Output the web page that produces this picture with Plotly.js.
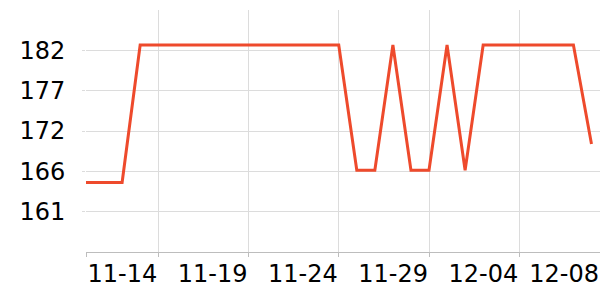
<!DOCTYPE html>
<html>
<head>
<meta charset="utf-8">
<script src="https://cdn.plot.ly/plotly-3.0.1.min.js"></script>
<style>html,body{margin:0;padding:0;background:#fff;}#chart{width:600px;height:300px;}</style>
</head>
<body>
<div id="chart"></div>
<script>
const dates = [
  "2024-11-10","2024-11-11","2024-11-12","2024-11-13","2024-11-14","2024-11-15","2024-11-16",
  "2024-11-17","2024-11-18","2024-11-19","2024-11-20","2024-11-21","2024-11-22","2024-11-23",
  "2024-11-24","2024-11-25","2024-11-26","2024-11-27","2024-11-28","2024-11-29","2024-11-30",
  "2024-12-01","2024-12-02","2024-12-03","2024-12-04","2024-12-05","2024-12-06","2024-12-07",
  "2024-12-08"
];
const values = [
  164.8,164.8,164.8,182.7,182.7,182.7,182.7,
  182.7,182.7,182.7,182.7,182.7,182.7,182.7,
  182.7,166.4,166.4,182.7,166.4,166.4,182.7,
  166.4,182.7,182.7,182.7,182.7,182.7,182.7,
  169.8
];
const xTickVals = ["2024-11-10","2024-11-14","2024-11-19","2024-11-24","2024-11-29","2024-12-04"];
const xTickText = ["","11-14","11-19","11-24","11-29","12-04"];
const lastTickVals = ["2024-12-08"];
const lastTickText = ["12-08"];
const yTickVals = [161, 166.25, 171.5, 176.75, 182];
const yTickText = ["161","166","172","177","182"];
const yRange = [155.75, 187.25];
const xRange = ["2024-11-10 00:00", "2024-12-08 11:20"];

const tickFont = {family: "DejaVu Sans", size: 24, color: "#000"};

const trace = {
  x: dates, y: values, type: "scatter", mode: "lines",
  line: {color: "#ee4a2c", width: 3},
  hoverinfo: "skip"
};
const ghost = {
  x: dates, y: values, type: "scatter", mode: "lines", xaxis: "x2",
  line: {color: "rgba(0,0,0,0)", width: 0},
  hoverinfo: "skip", showlegend: false
};
const layout = {
  width: 600, height: 300,
  margin: {l: 86, r: 0, t: 10, b: 48},
  paper_bgcolor: "#fff", plot_bgcolor: "#fff",
  showlegend: false,
  font: {family: "DejaVu Sans", size: 24, color: "#000"},
  xaxis: {
    type: "date", range: xRange,
    tickmode: "array", tickvals: xTickVals, ticktext: xTickText,
    ticklabelposition: "outside left", tickangle: 0,
    tickfont: tickFont,
    showgrid: true, gridcolor: "#dcdcdc", gridwidth: 1,
    showline: true, linecolor: "#bdbdbd", linewidth: 1,
    ticks: "outside", ticklen: 4, tickcolor: "#bdbdbd",
    zeroline: false
  },
  xaxis2: {
    type: "date", range: xRange, overlaying: "x", anchor: "y", side: "bottom",
    tickmode: "array", tickvals: lastTickVals, ticktext: lastTickText,
    ticklabelposition: "outside left", tickangle: 0, ticklabelshift: 8,
    tickfont: tickFont,
    showgrid: false, showline: false, zeroline: false,
    ticks: "outside", ticklen: 4, tickcolor: "rgba(0,0,0,0)"
  },
  yaxis: {
    range: yRange,
    tickmode: "array", tickvals: yTickVals, ticktext: yTickText,
    tickfont: tickFont,
    showgrid: true, gridcolor: "#dcdcdc", gridwidth: 1,
    showline: false, zeroline: false,
    ticks: "outside", ticklen: 3, tickcolor: "#dcdcdc",
    ticklabelstandoff: 12
  }
};
Plotly.newPlot("chart", [ghost, trace], layout, {staticPlot: true, displayModeBar: false});
</script>
</body>
</html>
